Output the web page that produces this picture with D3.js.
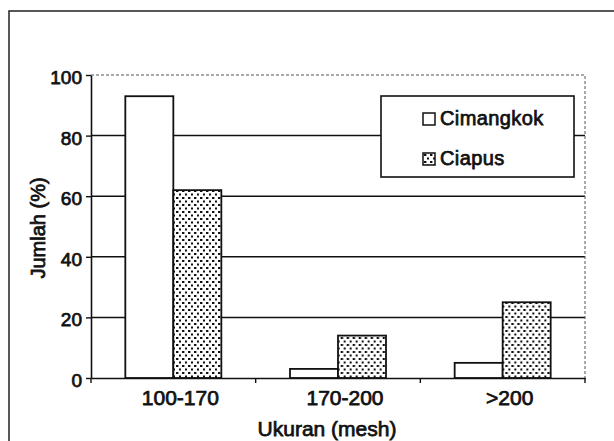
<!DOCTYPE html>
<html>
<head>
  <meta charset="utf-8">
  <title>Jumlah vs Ukuran</title>
  <script src="https://d3js.org/d3.v7.min.js"></script>
  <style>
    body { margin: 0; background: #fff; }
    text { font-family: "Liberation Sans", Arial, sans-serif; fill: #111; }
  </style>
</head>
<body>
  <svg id="chart" width="614" height="441"></svg>
  <script>
    // values
    const categories = ["100-170", "170-200", ">200"];
    const seriesNames = ["Cimangkok", "Ciapus"];
    const cimangkok = [93, 3, 5];
    const ciapus = [62, 14, 25];
    const yTicks = [0, 20, 40, 60, 80, 100];

    const svg = d3.select("#chart");
    const plot = { left: 91, right: 585, top: 75, bottom: 378 };
    const textStroke = 0.75;

    // dotted fill for Ciapus
    const defs = svg.append("defs");
    const pat = defs.append("pattern")
      .attr("id", "dots")
      .attr("patternUnits", "userSpaceOnUse")
      .attr("width", 6).attr("height", 7);
    pat.append("rect").attr("width", 6).attr("height", 7).attr("fill", "#fff");
    pat.append("rect").attr("x", 1).attr("y", 1).attr("width", 2.4).attr("height", 2).attr("fill", "#111");
    pat.append("rect").attr("x", 4).attr("y", 4.5).attr("width", 2.4).attr("height", 2).attr("fill", "#111");

    // outer frame (only top and left are visible in the scan)
    svg.append("path")
      .attr("d", "M9,441 V11 H614")
      .attr("fill", "none")
      .attr("stroke", "#222")
      .attr("stroke-width", 1.5);

    const x = d3.scaleBand()
      .domain(categories)
      .range([plot.left, plot.right])
      .paddingInner(0).paddingOuter(0);

    const x1 = d3.scaleBand()
      .domain(seriesNames)
      .range([0, x.bandwidth()])
      .paddingInner(0).paddingOuter(0.715);

    const y = d3.scaleLinear()
      .domain([0, 100])
      .range([plot.bottom, plot.top]);

    // gridlines
    svg.append("g")
      .selectAll("line")
      .data(yTicks.filter(d => d > 0 && d < 100))
      .join("line")
      .attr("x1", plot.left).attr("x2", plot.right)
      .attr("y1", d => y(d)).attr("y2", d => y(d))
      .attr("stroke", "#111").attr("stroke-width", 1.5);

    // dotted plot border top / right
    svg.append("path")
      .attr("d", `M${plot.left},${y(100)} H${plot.right} V${plot.bottom}`)
      .attr("fill", "none")
      .attr("stroke", "#555")
      .attr("stroke-width", 1)
      .attr("stroke-dasharray", "3,2");

    // bars
    const rows = categories.map((c, i) => ({ cat: c, values: [cimangkok[i], ciapus[i]] }));
    const groups = svg.append("g")
      .selectAll("g")
      .data(rows)
      .join("g")
      .attr("transform", d => `translate(${x(d.cat)},0)`);

    groups.selectAll("rect")
      .data(d => d.values.map((v, j) => ({ name: seriesNames[j], value: v })))
      .join("rect")
      .attr("x", d => x1(d.name))
      .attr("y", d => y(d.value))
      .attr("width", x1.bandwidth())
      .attr("height", d => y(0) - y(d.value))
      .attr("fill", d => d.name === "Ciapus" ? "url(#dots)" : "#fff")
      .attr("stroke", "#111")
      .attr("stroke-width", 1.8);

    // y axis
    const yAxis = svg.append("g")
      .attr("transform", `translate(${plot.left},0)`)
      .call(d3.axisLeft(y).tickValues(yTicks).tickSize(5).tickPadding(4).tickSizeOuter(0));
    yAxis.select(".domain").attr("stroke", "#111").attr("stroke-width", 1.6);
    yAxis.selectAll(".tick line").attr("stroke", "#111").attr("stroke-width", 1.4);
    yAxis.selectAll(".tick text")
      .attr("dy", "0.45em")
      .style("font-size", "19px")
      .attr("stroke", "#111").attr("stroke-width", textStroke);

    // x axis
    const xAxis = svg.append("g")
      .attr("transform", `translate(0,${plot.bottom})`)
      .call(d3.axisBottom(x).tickSize(0).tickSizeOuter(0));
    xAxis.select(".domain").attr("stroke", "#111").attr("stroke-width", 1.6);
    xAxis.selectAll(".tick text")
      .attr("y", 27).attr("dy", 0).attr("dx", 7)
      .style("font-size", "21px")
      .attr("stroke", "#111").attr("stroke-width", textStroke);

    // x tick marks at category boundaries
    const bounds = categories.map(c => x(c)).concat([x(categories[categories.length - 1]) + x.bandwidth()]);
    svg.append("g")
      .selectAll("line")
      .data(bounds)
      .join("line")
      .attr("x1", d => d).attr("x2", d => d)
      .attr("y1", plot.bottom).attr("y2", plot.bottom + 5)
      .attr("stroke", "#111").attr("stroke-width", 1.4);

    // axis titles
    svg.append("text")
      .attr("transform", "translate(45,228) rotate(-90)")
      .attr("text-anchor", "middle")
      .style("font-size", "20px")
      .attr("stroke", "#111").attr("stroke-width", textStroke)
      .text("Jumlah (%)");

    svg.append("text")
      .attr("x", 327).attr("y", 436)
      .attr("text-anchor", "middle")
      .style("font-size", "21px")
      .attr("stroke", "#111").attr("stroke-width", textStroke)
      .text("Ukuran (mesh)");

    // legend
    const legend = svg.append("g");
    legend.append("rect")
      .attr("x", 381).attr("y", 96)
      .attr("width", 193).attr("height", 81)
      .attr("fill", "#fff")
      .attr("stroke", "#111").attr("stroke-width", 1.6);

    const items = legend.selectAll("g")
      .data(seriesNames)
      .join("g")
      .attr("transform", (d, i) => `translate(423,${113 + i * 40})`);
    items.append("rect")
      .attr("width", 12).attr("height", 12)
      .attr("fill", d => d === "Ciapus" ? "url(#dots)" : "#fff")
      .attr("stroke", "#111").attr("stroke-width", 1.5);
    items.append("text")
      .attr("x", 17).attr("y", 12)
      .style("font-size", "20px")
      .attr("letter-spacing", "0.4px")
      .attr("stroke", "#111").attr("stroke-width", textStroke)
      .text(d => d);
  </script>
</body>
</html>
